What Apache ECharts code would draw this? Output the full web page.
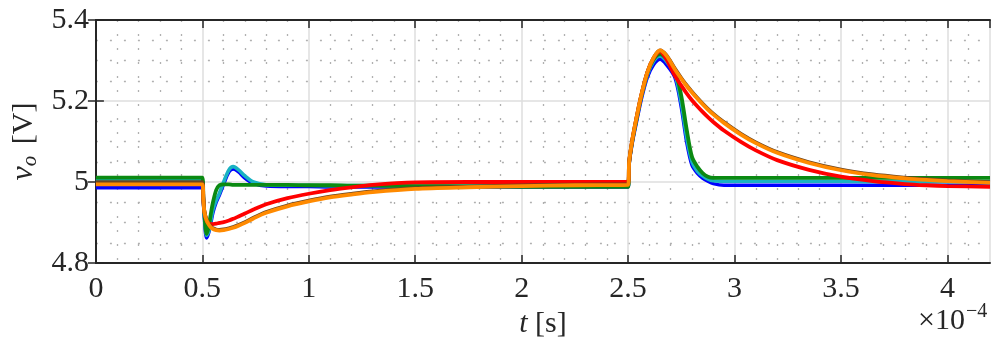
<!DOCTYPE html>
<html>
<head>
<meta charset="utf-8">
<script src="https://cdn.jsdelivr.net/npm/echarts@6/dist/echarts.min.js"></script>
<style>
  html, body { margin: 0; padding: 0; background: #fff; }
  #chart { width: 996px; height: 348px; }
</style>
</head>
<body>
<div id="chart"></div>
<script>
// time in units of 1e-4 s
const timeVals = [0, 0.5, 0.505, 0.51, 0.52, 0.53, 0.54, 0.55, 0.565, 0.58,
  0.6, 0.625, 0.645, 0.67, 0.7, 0.74, 0.8, 0.9, 1.0, 1.1,
  1.2, 1.3, 1.5, 1.75, 2.0, 2.25, 2.5, 2.505, 2.52, 2.54,
  2.56, 2.59, 2.62, 2.65, 2.68, 2.72, 2.75, 2.775, 2.8, 2.825,
  2.85, 2.875, 2.9, 2.95, 3.03, 3.1, 3.2, 3.35, 3.5, 3.65,
  3.8, 3.9, 4.0, 4.2];

const blueVals = [4.986, 4.986, 4.95, 4.91, 4.862, 4.875, 4.9, 4.925, 4.95, 4.968,
  4.995, 5.025, 5.032, 5.025, 5.01, 4.997, 4.99, 4.989, 4.989, 4.988,
  4.988, 4.988, 4.988, 4.988, 4.988, 4.988, 4.988, 5.045, 5.098, 5.15,
  5.2, 5.258, 5.29, 5.303, 5.29, 5.258, 5.185, 5.1, 5.042, 5.022,
  5.01, 5.002, 4.996, 4.992, 4.992, 4.992, 4.992, 4.992, 4.992, 4.992,
  4.992, 4.992, 4.992, 4.992];

const tealVals = [5.003, 5.003, 4.955, 4.915, 4.868, 4.878, 4.905, 4.932, 4.955, 4.972,
  5.0, 5.03, 5.038, 5.03, 5.015, 5.0, 4.993, 4.992, 4.992, 4.991,
  4.991, 4.991, 4.99, 4.99, 4.99, 4.99, 4.99, 5.048, 5.101, 5.155,
  5.205, 5.264, 5.298, 5.311, 5.298, 5.266, 5.195, 5.11, 5.05, 5.027,
  5.015, 5.007, 5.003, 5.002, 5.002, 5.002, 5.002, 5.002, 5.002, 5.001,
  5.001, 5.001, 5.001, 5.001];

const greenVals = [5.011, 5.011, 4.96, 4.92, 4.872, 4.89, 4.922, 4.95, 4.98, 4.992,
  4.994, 4.994, 4.993, 4.993, 4.993, 4.993, 4.993, 4.993, 4.992, 4.992,
  4.991, 4.991, 4.99, 4.989, 4.988, 4.988, 4.988, 5.048, 5.102, 5.156,
  5.207, 5.268, 5.303, 5.316, 5.305, 5.276, 5.212, 5.13, 5.062, 5.038,
  5.022, 5.013, 5.01, 5.01, 5.01, 5.01, 5.01, 5.01, 5.01, 5.01,
  5.01, 5.01, 5.01, 5.01];

const redVals = [4.996, 4.996, 4.955, 4.925, 4.905, 4.898, 4.896, 4.896, 4.897, 4.899,
  4.901, 4.905, 4.909, 4.915, 4.922, 4.932, 4.945, 4.96, 4.971, 4.98,
  4.987, 4.993, 4.999, 5.0, 5.0, 5.0, 5.0, 5.05, 5.105, 5.16,
  5.21, 5.27, 5.306, 5.322, 5.303, 5.262, 5.238, 5.219, 5.202, 5.187,
  5.173, 5.16, 5.148, 5.127, 5.099, 5.078, 5.054, 5.03, 5.013, 5.002,
  4.995, 4.992, 4.99, 4.988];

const darkVals = [5.0, 5.0, 4.96, 4.928, 4.908, 4.897, 4.89, 4.886, 4.883, 4.882,
  4.883, 4.886, 4.889, 4.894, 4.901, 4.912, 4.926, 4.942, 4.954, 4.964,
  4.971, 4.977, 4.985, 4.989, 4.992, 4.994, 4.995, 5.05, 5.105, 5.16,
  5.21, 5.27, 5.307, 5.325, 5.313, 5.28, 5.257, 5.239, 5.223, 5.208,
  5.194, 5.181, 5.169, 5.148, 5.119, 5.098, 5.074, 5.049, 5.031, 5.019,
  5.011, 5.007, 5.004, 5.0];

const orangeVals = [4.994, 4.994, 4.955, 4.925, 4.905, 4.895, 4.888, 4.884, 4.881, 4.88,
  4.881, 4.884, 4.887, 4.892, 4.899, 4.91, 4.924, 4.94, 4.952, 4.962,
  4.969, 4.975, 4.983, 4.987, 4.99, 4.992, 4.993, 5.05, 5.105, 5.16,
  5.21, 5.27, 5.307, 5.325, 5.312, 5.278, 5.255, 5.237, 5.221, 5.206,
  5.192, 5.179, 5.167, 5.146, 5.117, 5.096, 5.072, 5.047, 5.029, 5.017,
  5.009, 5.005, 5.002, 4.998];

const FONT = '"Liberation Serif", "DejaVu Serif", serif';
const INK = '#262626';

function pairs(vals) {
  return timeVals.map((t, i) => [t, vals[i]]);
}

function line(name, vals, color, width) {
  return {
    name: name,
    type: 'line',
    data: pairs(vals),
    showSymbol: false,
    smooth: 0.3,
    lineStyle: { color: color, width: width },
    itemStyle: { color: color },
    xAxisIndex: 0,
    yAxisIndex: 0
  };
}

const frameAxis = {
  axisLine: { show: true, lineStyle: { color: INK, width: 2 } },
  axisTick: { show: true, inside: true, length: 8, lineStyle: { color: INK, width: 1.5 } },
  axisLabel: { show: false },
  splitLine: { show: false }
};

var myChart = echarts.init(document.getElementById('chart'));

var option = {
  animation: false,
  backgroundColor: '#ffffff',
  grid: { left: 92, right: 6, top: 20, bottom: 85 },
  xAxis: [{
      type: 'value',
      min: 0,
      max: 4.2,
      interval: 0.5,
      position: 'bottom',
      name: '{it|t} [s]',
      nameLocation: 'middle',
      nameGap: 44,
      nameTextStyle: {
        fontFamily: FONT, fontSize: 30, color: INK,
        rich: { it: { fontFamily: FONT, fontSize: 30, fontStyle: 'italic', color: INK } }
      },
      axisLine: { show: true, onZero: false, lineStyle: { color: INK, width: 2 } },
      axisTick: { show: true, inside: true, length: 8, lineStyle: { color: INK, width: 1.5 } },
      axisLabel: {
        margin: 11,
        fontFamily: FONT, fontSize: 30, color: INK,
        showMaxLabel: false,
        formatter: v => String(+v.toFixed(1))
      },
      splitLine: { show: true, lineStyle: { color: '#dedede', width: 1.5 } },
      minorTick: { show: false, splitNumber: 5 },
      minorSplitLine: { show: true, lineStyle: { color: '#b0b0b0', width: 1.3, type: [2, 12] } }
    },
    Object.assign({
      type: 'value', min: 0, max: 4.2, interval: 0.5, position: 'top'
    }, frameAxis)
  ],
  yAxis: [{
      type: 'value',
      min: 4.8,
      max: 5.4,
      interval: 0.2,
      position: 'left',
      name: '{it|v}{sub|o} [V]',
      nameLocation: 'middle',
      nameGap: 50,
      nameTextStyle: {
        fontFamily: FONT, fontSize: 30, color: INK,
        rich: {
          it: { fontFamily: FONT, fontSize: 32, fontStyle: 'italic', color: INK },
          sub: { fontFamily: FONT, fontSize: 21, fontStyle: 'italic', color: INK, padding: [12, 4, 0, 0] }
        }
      },
      axisLine: { show: true, onZero: false, lineStyle: { color: INK, width: 2 } },
      axisTick: { show: true, inside: true, length: 8, lineStyle: { color: INK, width: 1.5 } },
      axisLabel: {
        margin: 7,
        fontFamily: FONT, fontSize: 30, color: INK,
        formatter: v => String(+v.toFixed(1))
      },
      splitLine: { show: true, lineStyle: { color: '#dedede', width: 1.5 } },
      minorTick: { show: false, splitNumber: 4 },
      minorSplitLine: { show: true, lineStyle: { color: '#b0b0b0', width: 1.3, type: [2, 12] } }
    },
    Object.assign({
      type: 'value', min: 4.8, max: 5.4, interval: 0.2, position: 'right'
    }, frameAxis)
  ],
  graphic: [
    { type: 'text', left: 918, top: 306, style: { text: '×10', font: '30px ' + FONT, fill: INK } },
    { type: 'text', left: 966, top: 302, style: { text: '−4', font: '20px ' + FONT, fill: INK } }
  ],
  series: [
    line('blue', blueVals, '#0000ff', 3.6),
    line('teal', tealVals, '#19b2c2', 3.6),
    line('green', greenVals, '#0b8a12', 3.8),
    line('red', redVals, '#ff0000', 3.8),
    line('dark', darkVals, '#6b4420', 3.6),
    line('orange', orangeVals, '#ff8a00', 3.8)
  ]
};

myChart.setOption(option);
</script>
</body>
</html>
